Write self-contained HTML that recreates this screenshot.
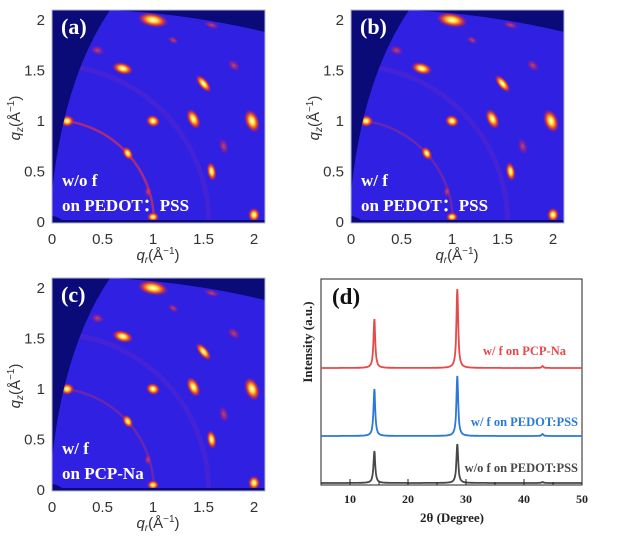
<!DOCTYPE html>
<html><head><meta charset="utf-8">
<style>
body{margin:0;background:#fff;width:633px;height:543px;overflow:hidden}
svg{display:block}
.tk{font-family:"Liberation Sans",sans-serif;font-size:15px;fill:#333}
.ser{font-family:"Liberation Serif",serif;font-weight:bold}
</style></head><body>
<svg id="fig" width="633" height="543" viewBox="0 0 633 543">
<defs>
<radialGradient id="spot">
<stop offset="0" stop-color="#ffffe0"/>
<stop offset="0.3" stop-color="#ffe040"/>
<stop offset="0.6" stop-color="#ff5010" stop-opacity="0.9"/>
<stop offset="1" stop-color="#c01060" stop-opacity="0"/>
</radialGradient>
<radialGradient id="spotw">
<stop offset="0" stop-color="#ff6020" stop-opacity="0.7"/>
<stop offset="0.6" stop-color="#d02060" stop-opacity="0.4"/>
<stop offset="1" stop-color="#a01090" stop-opacity="0"/>
</radialGradient>
</defs>
</svg>
<script>
// GIWAXS spot data: [qr, qz, rx(Å^-1), ry(Å^-1), angle deg, strength 1=bright 0=weak]
const spotsQr=[1.0,0.45,0.7,1.5,0.15,1.0,1.4,1.98,0.75,1.58,1.0,2.0,1.8,0.95,1.58,1.2,1.7];
const spotsQz=[2.0,1.7,1.52,1.37,1.0,1.0,1.02,1.0,0.68,0.5,0.05,0.07,1.55,0.3,1.95,1.8,0.75];
const spotsRx=[0.13,0.06,0.09,0.09,0.06,0.06,0.05,0.06,0.04,0.04,0.05,0.05,0.06,0.03,0.07,0.05,0.04];
const spotsRy=[0.06,0.04,0.05,0.04,0.05,0.05,0.09,0.1,0.06,0.08,0.04,0.06,0.04,0.05,0.03,0.03,0.07];
const spotsAng=[10,15,15,50,0,20,-25,-20,-30,-10,0,0,40,0,15,30,-15];
const spotsStr=[1,0,1,1,1,1,1,1,1,1,1,1,0,0,0,0,0];
const ringRadii=[1.01,1.55];
const panels=[{id:'a',dx:0,dy:0,l1:'w/o f',l2:'on PEDOT：PSS'},{id:'b',dx:299,dy:0,l1:'w/ f',l2:'on PEDOT：PSS'},{id:'c',dx:0,dy:268,l1:'w/ f',l2:'on PCP-Na'}];
const qTicks=[0,0.5,1,1.5,2];
const NS='http://www.w3.org/2000/svg';
const svg=document.getElementById('fig');
function mk(tag,attrs,parent){const e=document.createElementNS(NS,tag);for(const k in attrs)e.setAttribute(k,attrs[k]);(parent||svg).appendChild(e);return e;}
panels.forEach(p=>{
  const g=mk('g',{transform:`translate(${p.dx},${p.dy})`});
  
  
  const X=q=>52+q*101, Y=q=>222-q*101;
  mk('rect',{x:52,y:10,width:213,height:213,fill:'#0a0a78'},g);
  const cid='clip'+p.id;
  const cp=mk('clipPath',{id:cid},g);
  mk('path',{d:'M52,192 Q64,78 110,10 Q190,14 265,32 L265,220 L62,220 Q56,216 52,216 Z'},cp);
  const inner=mk('g',{'clip-path':`url(#${cid})`},g);
  mk('rect',{x:52,y:10,width:213,height:213,fill:'#3020e2'},inner);
  ringRadii.forEach((r,i)=>{
    const c=mk('circle',{cx:X(0),cy:Y(0),r:r*101,fill:'none',stroke:i?'#6a2ac0':'#c0306a','stroke-width':i?5:2.5,opacity:i?0.35:(p.id==='a'?0.8:0.4)},inner);
    
    
  });
  spotsQr.forEach((q,i)=>{
    const e=mk('ellipse',{cx:X(q),cy:Y(spotsQz[i]),rx:spotsRx[i]*101*1.2,ry:spotsRy[i]*101*1.2,fill:spotsStr[i]?'url(#spot)':'url(#spotw)',transform:`rotate(${spotsAng[i]} ${X(q)} ${Y(spotsQz[i])})`},inner);
    
    
  });
  mk('rect',{x:52,y:10,width:213,height:213,fill:'none',stroke:'#b0b8d0','stroke-width':1},g);
  qTicks.forEach(t=>{
    const a=mk('text',{x:X(t),y:244,'text-anchor':'middle',class:'tk'},g);a.textContent=t;
    
    const b=mk('text',{x:45,y:Y(t)+5,'text-anchor':'end',class:'tk'},g);b.textContent=t;
    
  });
  const xt=mk('text',{x:158,y:260,'text-anchor':'middle',class:'tk','font-family':'Liberation Serif,serif'},g);
  xt.innerHTML='<tspan font-style="italic">q</tspan><tspan font-size="10" dy="3" font-style="italic">r</tspan><tspan dy="-3">(Å</tspan><tspan font-size="10" dy="-6">−1</tspan><tspan dy="6">)</tspan>';
  
  const yt=mk('text',{x:0,y:0,'text-anchor':'middle',class:'tk',transform:'translate(20,118) rotate(-90)'},g);
  yt.innerHTML='<tspan font-style="italic">q</tspan><tspan font-size="10" dy="3" font-style="italic">z</tspan><tspan dy="-3">(Å</tspan><tspan font-size="10" dy="-6">−1</tspan><tspan dy="6">)</tspan>';
  
  const lab=mk('text',{x:61,y:34,fill:'#fff',class:'ser','font-size':22},g);lab.textContent='('+p.id+')';
  
  const t1=mk('text',{x:62,y:186,fill:'#fff',class:'ser','font-size':17},g);t1.textContent=p.l1;
  
  const t2=mk('text',{x:62,y:211,fill:'#fff',class:'ser','font-size':17},g);t2.textContent=p.l2;
  
});

// XRD panel (d)
const xrdSeries=['w/o f on PEDOT:PSS','w/ f on PEDOT:PSS','w/ f on PCP-Na'];
const xrdColors=['#484848','#2a78d8','#e84848'];
const xrdOffsets=[2,49,117];
const peakPos=[14.2,28.5,43.2];
const peakHeights=[[32,39,1],[47,60,2],[49,79,2]];
const xrdTicks=[10,20,30,40,50];
const xs=v=>321+(v-5)*(261/45);
const ys=v=>485-v;
const gd=mk('g',{});


mk('rect',{x:321,y:279,width:261,height:206,fill:'none',stroke:'#222','stroke-width':1},gd);
xrdSeries.forEach((s,i)=>{
  let d='';
  for(let t=5;t<=50.001;t+=0.05){
    let v=xrdOffsets[i];
    peakPos.forEach((pp,k)=>{const w=0.18;v+=peakHeights[i][k]/(1+((t-pp)/w)**2);});
    d+=(d?'L':'M')+xs(t).toFixed(1)+','+ys(v).toFixed(1);
  }
  const pth=mk('path',{d:d,fill:'none',stroke:xrdColors[i],'stroke-width':1.8},gd);
  
  
});
const labPos=[[578,472],[578,426],[566,355]];
xrdSeries.forEach((s,i)=>{
  const t=mk('text',{x:labPos[i][0],y:labPos[i][1],'text-anchor':'end',fill:xrdColors[i],class:'ser','font-size':12.5},gd);t.textContent=s;
  
});
for(let v=5;v<=50;v+=5){mk('line',{x1:xs(v),x2:xs(v),y1:485,y2:v%10?482:479,stroke:'#222'},gd);}
xrdTicks.forEach(v=>{
  const t=mk('text',{x:xs(v),y:503,'text-anchor':'middle',class:'ser','font-size':12,fill:'#222'},gd);t.textContent=v;
  
});
const dx=mk('text',{x:452,y:522,'text-anchor':'middle',class:'ser','font-size':13,fill:'#222'},gd);dx.textContent='2θ (Degree)';

const dy=mk('text',{x:0,y:0,'text-anchor':'middle',class:'ser','font-size':13,fill:'#222',transform:'translate(312,342) rotate(-90)'},gd);dy.textContent='Intensity (a.u.)';

const dl=mk('text',{x:332,y:304,class:'ser','font-size':23,fill:'#111'},gd);dl.textContent='(d)';

</script>
</body></html>
